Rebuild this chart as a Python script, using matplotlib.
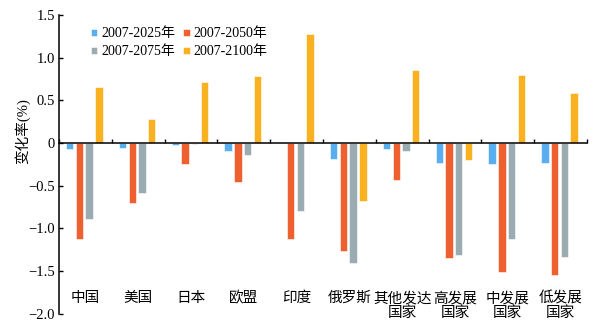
import numpy as np
import matplotlib
matplotlib.use("Agg")
import matplotlib.pyplot as plt

plt.rcParams['font.family'] = ['Liberation Serif', 'Noto Sans CJK SC']
plt.rcParams['axes.unicode_minus'] = True

# data
regions = ["中国", "美国", "日本", "欧盟", "印度", "俄罗斯",
           "其他发达\n国家", "高发展\n国家", "中发展\n国家", "低发展\n国家"]
series_names = ["2007-2025年", "2007-2050年", "2007-2075年", "2007-2100年"]
v2025 = [-0.07, -0.06, -0.02, -0.09, 0.00, -0.19, -0.07, -0.23, -0.25, -0.23]
v2050 = [-1.13, -0.70, -0.25, -0.46, -1.13, -1.26, -0.43, -1.35, -1.51, -1.55]
v2075 = [-0.89, -0.58, -0.01, -0.14, -0.80, -1.41, -0.09, -1.31, -1.12, -1.33]
v2100 = [0.65, 0.28, 0.72, 0.78, 1.28, -0.68, 0.85, -0.20, 0.80, 0.58]
y_ticks = [-2.0, -1.5, -1.0, -0.5, 0, 0.5, 1.0, 1.5]
y_tick_labels = ["−2.0", "−1.5", "−1.0", "−0.5", "0", "0.5", "1.0", "1.5"]

colors = ["#58aeee", "#ee6030", "#9aabb1", "#f8b121"]

fig = plt.figure(figsize=(6.14, 3.31), dpi=100)
ax = fig.add_axes([0.096, 0.052, 0.86, 0.903])

x = np.arange(len(regions))
width = 0.14
step = 0.185
all_series = [v2025, v2050, v2075, v2100]
bars = []
for k, (vals, name) in enumerate(zip(all_series, series_names)):
    offset = (k - 1.5) * step - 0.02
    b = ax.bar(x + offset, vals, width, color=colors[k], label=name,
               edgecolor="#ffffff", linewidth=0.4)
    bars.append(b)

ax.set_xlim(-0.5, len(regions) - 0.5)
ax.set_ylim(-2.0, 1.5)
ax.set_yticks(y_ticks)
ax.set_yticklabels(y_tick_labels, fontsize=10.5)

# x axis drawn at zero, ticks on category boundaries
ax.spines['bottom'].set_position(('data', 0))
ax.spines['top'].set_visible(False)
ax.spines['right'].set_visible(False)
ax.spines['left'].set_linewidth(1.1)
ax.spines['bottom'].set_linewidth(1.1)
ax.set_xticks(np.arange(len(regions) + 1) - 0.5)
ax.set_xticklabels([])
ax.tick_params(axis='x', direction='in', length=3, width=1)
ax.tick_params(axis='y', direction='in', length=3, width=1, pad=3)

for i, name in enumerate(regions):
    ax.text(i, -1.74, name, ha='center', va='top', fontsize=10.5,
            multialignment='center', linespacing=1.05)

ax.set_ylabel("变化率(%)", fontsize=10.5)
ax.yaxis.set_label_coords(-0.055, 0.61)

# legend filled row by row: 2025, 2050 / 2075, 2100
order = [0, 2, 1, 3]
ax.legend([bars[i] for i in order], [series_names[i] for i in order],
          loc='upper left', bbox_to_anchor=(0.06, 0.958), ncol=2, fontsize=10,
          frameon=False, handlelength=0.45, handleheight=0.45,
          handletextpad=0.3, columnspacing=0.6, labelspacing=0.35,
          borderaxespad=0, borderpad=0)

fig.savefig("out.png", dpi=100)
